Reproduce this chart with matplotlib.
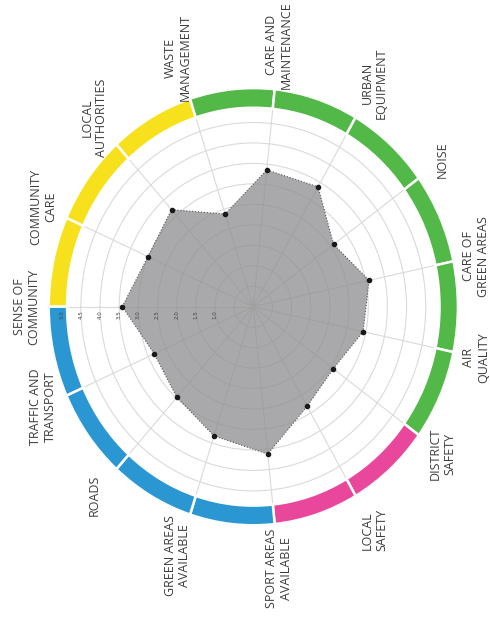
import numpy as np
import matplotlib
matplotlib.use("Agg")
import matplotlib.pyplot as plt
from matplotlib.transforms import offset_copy

# === DATA ===
categories = [
    "SENSE OF\nCOMMUNITY", "COMMUNITY\nCARE", "LOCAL\nAUTHORITIES", "WASTE\nMANAGEMENT",
    "CARE AND\nMAINTENANCE", "URBAN\nEQUIPMENT", "NOISE", "CARE OF\nGREEN AREAS",
    "AIR\nQUALITY", "DISTRICT\nSAFETY", "LOCAL\nSAFETY", "SPORT AREAS\nAVAILABLE",
    "GREEN AREAS\nAVAILABLE", "ROADS", "TRAFFIC AND\nTRANSPORT",
]
values = [3.42, 3.01, 3.19, 2.38, 3.36, 3.38, 2.59, 3.09, 2.93, 2.58, 2.81, 3.62, 3.32, 2.98, 2.83]
# colour group of the ring segment that starts at each category (clockwise)
segment_groups = ["yellow"] * 3 + ["green"] * 6 + ["pink"] * 2 + ["blue"] * 4
tick_values = [5.0, 4.5, 4.0, 3.5, 3.0, 2.5, 2.0, 1.5, 1.0]

group_colors = {
    "yellow": "#f6e11c",
    "green": "#52b848",
    "pink": "#e9479c",
    "blue": "#2a97d2",
}

n = len(categories)
step = 2 * np.pi / n
angles = np.arange(n) * step

fig = plt.figure(figsize=(4.9, 6.21), dpi=100)
ax = fig.add_axes([0.0986, 0.1535, 0.8367, 0.7053], projection="polar")
ax.set_aspect("auto")
ax.set_theta_offset(np.pi)
ax.set_theta_direction(-1)
ax.set_ylim(0, 5.35)
ax.set_axisbelow(True)

# grid
ax.set_xticks(angles)
ax.set_xticklabels([])
ax.set_yticks(np.arange(0.5, 5.0, 0.5))
ax.set_yticklabels([])
ax.grid(color="#dadada", linewidth=0.8)
ax.spines["polar"].set_visible(False)

# coloured outer ring
ax.bar(angles + step / 2, 0.48, width=step, bottom=4.86,
       color=[group_colors[g] for g in segment_groups],
       edgecolor="white", linewidth=1.8, zorder=3)

# data polygon
th = np.append(angles, angles[0])
vals = np.append(values, values[0])
ax.fill(th, vals, color="#8d8d8f", alpha=0.75, zorder=2, linewidth=0)
ax.plot(th, vals, color="#555555", linestyle=":", linewidth=0.8, zorder=4)
ax.plot(angles, values, "o", color="#1a1a1a", markersize=3, zorder=5)

# category labels
for a, lab in zip(angles, categories):
    phi = np.pi - a
    r = 5.92 + 0.52 * np.sin(phi) ** 2
    ax.text(a, r, lab, rotation=90, ha="center", va="center", multialignment="center",
            fontsize=9, family="Open Sans", color="#3c3c3c", linespacing=1.15)

# radial tick labels along the first axis
tick_tr = offset_copy(ax.transData, fig=fig, y=-8, units="dots")
for v in tick_values:
    ax.text(0, v, f"{v:.1f}", rotation=90, ha="center", va="center",
            fontsize=4, color="#444444", transform=tick_tr, zorder=6)

plt.savefig("out.png", dpi=100)
plt.close()
